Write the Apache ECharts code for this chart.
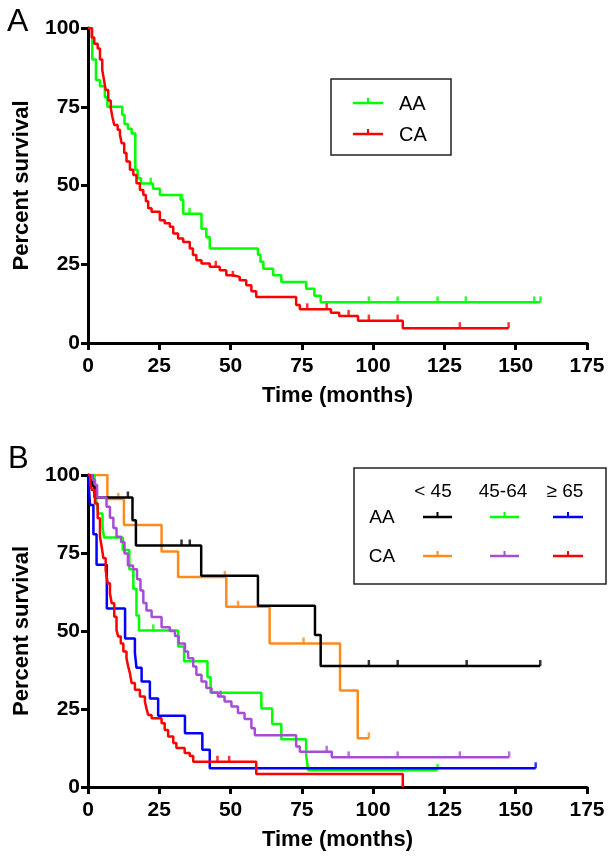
<!DOCTYPE html>
<html>
<head>
<meta charset="utf-8">
<script src="https://cdn.jsdelivr.net/npm/echarts@6/dist/echarts.min.js"></script>
<style>
html,body{margin:0;padding:0;background:#fff;}
#chart{width:614px;height:858px;}
</style>
</head>
<body>
<div id="chart"></div>
<script>
// ---------- DATA ----------
const panelLetters = ['A', 'B'];
const xAxisTitle = 'Time (months)';
const yAxisTitle = 'Percent survival';
const groupsA = ['AA', 'CA'];
const races = ['AA', 'CA'];
const ageGroups = ['< 45', '45-64', '\u2265 65'];

// Panel A: step points [months, percent]
const A_AA = [[0,100],[1.5,90],[2.8,83.5],[4.2,81.5],[5.9,78],[6.8,75],[12,72.5],[12.8,69.5],[14,68],[15.3,66.5],[16.6,55],[17.4,52.3],[18.6,50.6],[22.8,49],[25.2,47],[32.5,45.5],[33.4,41],[39.8,36.3],[41.5,33.6],[42.7,30],[59.6,28],[60.5,25.8],[61.5,23.6],[64.9,21.5],[67.8,19.4],[76.5,17.2],[79.4,15],[81.6,12.9],[158.7,12.9]];
const A_AA_cens = [[22,50.6],[33,45.5],[35.6,41],[98.5,12.9],[108.6,12.9],[122.6,12.9],[132.5,12.9],[156.5,12.9],[158.7,12.9]];
const A_CA = [[0,100],[1.3,97],[2.2,95],[3.4,93.5],[4.2,90],[5,86.7],[5.7,83],[6.2,80.3],[7.1,77],[8,74.5],[8.5,72],[9.2,69.2],[10.4,67.7],[11.2,66.1],[11.8,63.4],[12.7,60.3],[13.5,57.6],[14.7,55],[15.9,53.3],[17,50.7],[18.2,48.6],[19.4,47],[20.3,45],[21.1,42.8],[22.3,41.7],[25.2,39],[26.9,38],[28.7,36.9],[29.9,34.8],[31.6,33.2],[33.4,32.1],[35.7,30],[36.8,27.9],[38,26.3],[39.8,25.2],[42.7,24.2],[46.2,23.1],[48.5,21.5],[50.8,21],[53.2,19.9],[55.5,18.3],[57.3,16.4],[59,14.6],[73,12.1],[74.3,10.7],[85.2,9.6],[88.1,8.6],[94.7,7.1],[110.4,4.7],[147.5,4.7]];
const A_CA_cens = [[44.8,24.2],[50.8,21],[76.9,10.7],[83.7,10.7],[91.4,8.6],[98.5,7.1],[108.6,7.1],[130.4,4.7],[147.5,4.7]];

// Panel B
const B_AA_lt45 = [[0,100],[1.5,96.5],[2.3,92.8],[15.6,85.5],[16.8,77.4],[39.7,67.7],[59.6,58.1],[79.6,48.7],[81.6,38.8],[158.6,38.8]];
const B_AA_lt45_cens = [[14,92.8],[32.8,77.4],[35.7,77.4],[98.5,38.8],[108.6,38.8],[132.8,38.8],[158.6,38.8]];
const B_AA_45 = [[0,100],[2.3,95.7],[3,91.5],[3.6,87.7],[5.1,83.4],[5.6,80],[12.2,76],[14.5,69.8],[15.9,63.5],[17,55],[17.9,50.2],[31.6,45],[33.7,40.3],[41.9,35.2],[43,30.2],[60.8,25.2],[64.6,20.2],[67.8,15.3],[76.5,10.3],[77.2,5.4],[122.6,5.4]];
const B_AA_45_cens = [[22.9,50.2],[122.6,5.4]];
const B_AA_65 = [[0,100],[0.7,90.4],[1.9,81],[3,71.2],[6.6,57.2],[13,47.6],[16.45,43],[17,38.2],[18.8,33.8],[21.7,28.4],[24.6,22.8],[34,17.2],[40.1,11.9],[42.7,6],[157,6]];
const B_AA_65_cens = [[157,6]];
const B_CA_lt45 = [[0,100],[6.8,92.3],[12.6,84],[25.8,75.5],[31.6,67.3],[48.5,57.8],[63.7,46],[88.4,30.9],[94.6,15.6],[98.5,15.6]];
const B_CA_lt45_cens = [[10.6,92.3],[48,67.3],[52.6,57.8],[75.6,46],[98.5,15.6]];
const B_CA_45 = [[0,100],[1.5,98.5],[2.45,96.8],[3.2,92.8],[6.5,89.8],[7.7,86.3],[8.9,83],[10,80.2],[11.6,78.5],[12.8,74.8],[14,71],[15.8,69.8],[17.2,66.6],[18.4,63],[19.4,59],[20.5,56.6],[22.3,54.5],[25.8,51.2],[28.7,50],[30.5,48.4],[31.8,46],[34,43.4],[35.1,41.3],[36.9,38.6],[38,36],[39.8,33.8],[41.5,31.7],[43.3,30.3],[45.6,29],[47.9,27.4],[50.3,25.8],[52.6,23.7],[54.9,21.8],[57.3,18.8],[58.5,16.6],[73,13],[74.3,11.3],[85.5,9.5],[147.7,9.5]];
const B_CA_45_cens = [[46.5,29],[83.7,11.3],[91.4,9.5],[108.6,9.5],[130.4,9.5],[147.7,9.5]];
const B_CA_65 = [[0,100],[0.8,97.5],[1.3,95.2],[2.45,90.9],[3.4,86.1],[4.2,80.2],[4.8,77],[5.4,73.3],[6.2,69.5],[6.9,65.3],[7.7,62.1],[8.3,58.9],[9.2,54.6],[10,50.3],[10.6,48.2],[11.5,46],[12.4,43.4],[13.5,41.3],[14.1,38.6],[14.7,36.5],[15.3,33.3],[16.45,31.2],[18.2,29],[19.95,27.4],[20.5,25.2],[21.1,23.1],[22.3,22],[25.8,20.4],[26.9,18.3],[28.1,16.2],[29.9,14.1],[31,12.5],[33.9,10.9],[35.7,9.9],[36.9,8.1],[59,4.2],[110.4,4.2],[110.4,0]];
const B_CA_65_cens = [[45.4,8.1],[49.5,8.1]];

// ---------- STYLE ----------
const C = {green:'#00ff00', red:'#ff0000', black:'#000000', blue:'#0000ff', orange:'#ff8a1c', purple:'#a64dd6'};
const FONT = 'Liberation Sans, Arial, sans-serif';

function xAx(gi){
  return {gridIndex:gi, type:'value', min:0, max:175, interval:25,
    name:xAxisTitle, nameLocation:'middle', nameGap:42,
    nameTextStyle:{fontFamily:FONT, fontWeight:'bold', fontSize:22, color:'#000'},
    axisLine:{show:true, onZero:false, lineStyle:{color:'#000', width:3}},
    axisTick:{show:true, length:7, lineStyle:{color:'#000', width:3}},
    axisLabel:{fontFamily:FONT, fontWeight:'bold', fontSize:21, color:'#000', margin:13},
    splitLine:{show:false}};
}
function yAx(gi){
  return {gridIndex:gi, type:'value', min:0, max:100, interval:25,
    name:yAxisTitle, nameLocation:'middle', nameGap:55, nameRotate:90,
    nameTextStyle:{fontFamily:FONT, fontWeight:'bold', fontSize:22, color:'#000'},
    axisLine:{show:true, onZero:false, lineStyle:{color:'#000', width:3}},
    axisTick:{show:true, length:7, lineStyle:{color:'#000', width:3}},
    axisLabel:{fontFamily:FONT, fontWeight:'bold', fontSize:21, color:'#000', margin:8},
    splitLine:{show:false}};
}
function curve(data, color, gi, z){
  return {type:'line', data:data, step:'end', xAxisIndex:gi, yAxisIndex:gi,
    showSymbol:false, symbol:'none', lineStyle:{color:color, width:2.5}, z:z||2, silent:true};
}
function cens(data, color, gi, z){
  return {type:'scatter', data:data, xAxisIndex:gi, yAxisIndex:gi,
    symbol:'rect', symbolSize:[2.5,6], symbolOffset:[0,-3],
    itemStyle:{color:color}, z:z||3, silent:true};
}

// ---------- LEGENDS (graphic) ----------
const gfx = [];
function legItem(x1, x2, y, color){
  gfx.push({type:'line', shape:{x1:x1, y1:y, x2:x2, y2:y}, style:{stroke:color, lineWidth:2.5}});
  const xm = (x1+x2)/2;
  gfx.push({type:'line', shape:{x1:xm, y1:y, x2:xm, y2:y-5}, style:{stroke:color, lineWidth:2}});
}
function txt(x, y, s, size, align, weight){
  gfx.push({type:'text', x:x, y:y, style:{text:s, fontFamily:FONT, fontSize:size, fontWeight:weight||'normal',
    fill:'#000', align:align||'left', verticalAlign:'middle'}});
}
// panel letters
txt(7, 22, panelLetters[0], 32, 'left');
txt(8, 459, panelLetters[1], 31, 'left');
// Legend A
gfx.push({type:'rect', shape:{x:331, y:79, width:120, height:76}, style:{fill:'#fff', stroke:'#222', lineWidth:1.5}});
legItem(353, 383, 103, C.green); txt(399, 104, groupsA[0], 20);
legItem(353, 383, 134, C.red);   txt(399, 135, groupsA[1], 20);
// Legend B
gfx.push({type:'rect', shape:{x:354, y:468, width:252, height:116}, style:{fill:'#fff', stroke:'#222', lineWidth:1.5}});
const colX = [[423,452],[490,519],[553,583]];
const colC = [433, 503, 565];
ageGroups.forEach((g,i)=>txt(colC[i], 492, g, 19, 'center'));
txt(382, 518, races[0], 19, 'center');
txt(382, 557, races[1], 19, 'center');
const rowColors = [[C.black, C.green, C.blue],[C.orange, C.purple, C.red]];
[517, 556].forEach((y,r)=>colX.forEach((cx,i)=>legItem(cx[0], cx[1], y, rowColors[r][i])));

const option = {
  animation:false,
  backgroundColor:'#fff',
  grid:[
    {left:88, top:28, width:499, height:315, containLabel:false},
    {left:88, top:475, width:499, height:312, containLabel:false}
  ],
  xAxis:[xAx(0), xAx(1)],
  yAxis:[yAx(0), yAx(1)],
  series:[
    curve(A_AA, C.green, 0), cens(A_AA_cens, C.green, 0),
    curve(A_CA, C.red, 0, 4), cens(A_CA_cens, C.red, 0, 5),
    curve(B_CA_lt45, C.orange, 1), cens(B_CA_lt45_cens, C.orange, 1),
    curve(B_AA_lt45, C.black, 1, 4), cens(B_AA_lt45_cens, C.black, 1, 5),
    curve(B_AA_45, C.green, 1), cens(B_AA_45_cens, C.green, 1),
    curve(B_CA_45, C.purple, 1, 4), cens(B_CA_45_cens, C.purple, 1, 5),
    curve(B_AA_65, C.blue, 1, 4), cens(B_AA_65_cens, C.blue, 1, 5),
    curve(B_CA_65, C.red, 1, 4), cens(B_CA_65_cens, C.red, 1, 5)
  ],
  graphic:{elements:gfx}
};
const chart = echarts.init(document.getElementById('chart'), null, {renderer:'canvas'});
chart.setOption(option);
</script>
</body>
</html>
